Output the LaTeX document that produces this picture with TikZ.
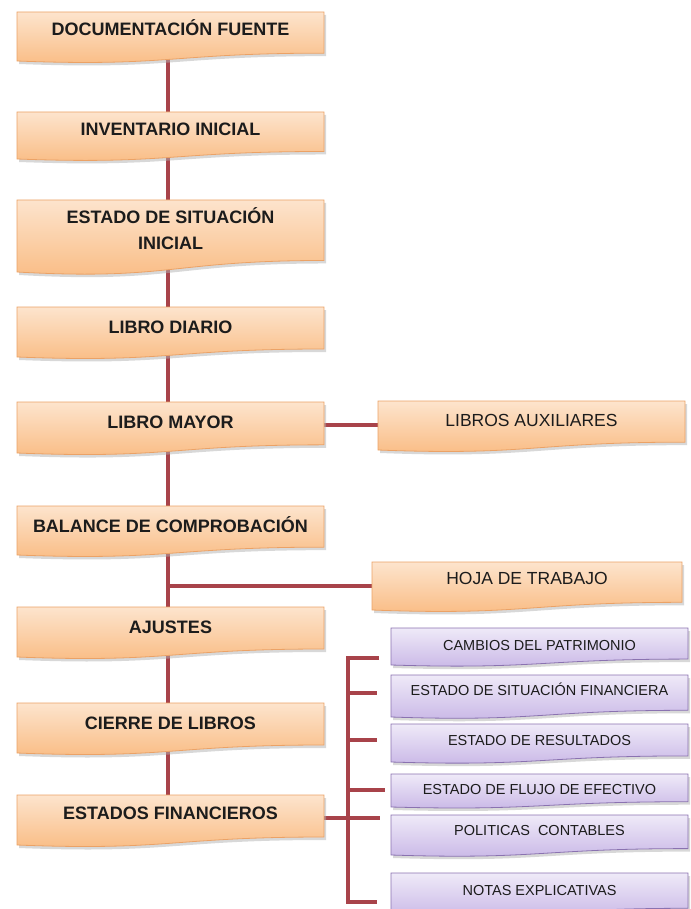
\documentclass[tikz,border=0pt]{standalone}
\usepackage{fontspec}
\setmainfont{Liberation Sans}
\usetikzlibrary{calc}
\pgfdeclarelayer{background}
\pgfsetlayers{background,main}
\definecolor{orangetop}{HTML}{FDE4CD}
\definecolor{orangebot}{HTML}{F9BB82}
\definecolor{orangeline}{HTML}{EBA266}
\definecolor{purpletop}{HTML}{EFEAF8}
\definecolor{purplebot}{HTML}{C8B6E6}
\definecolor{purpleline}{HTML}{8A72B0}
\definecolor{connc}{HTML}{A8434A}
\definecolor{textc}{HTML}{1C1C1C}
\tikzset{
  conn/.style={draw=connc, line width=4pt},
  orangebox/.style={draw=orangeline, line width=0.8pt, top color=orangetop, bottom color=orangebot},
  purplebox/.style={draw=purpleline, line width=0.8pt, top color=purpletop, bottom color=purplebot},
  boxshadow/.style={fill=black!30, opacity=0.5},
  frame/.style={inner sep=0pt, outer sep=0pt, draw=none, fill=none},
  maintext/.style={font=\fontsize{18}{26}\selectfont\bfseries, text=textc, align=center, inner sep=0pt, anchor=base},
  sidetext/.style={font=\fontsize{17.5}{21}\selectfont, text=textc, align=center, inner sep=0pt, anchor=base},
  ptext/.style={font=\fontsize{14.5}{17}\selectfont, text=textc, align=center, inner sep=0pt, anchor=base}
}
% #1 name, #2 box style, #3 x1, #4 y1, #5 x2, #6 y2 (left bottom), #7 text style, #8 baseline y (last line), #9 text
\newcommand{\dbox}[9]{%
  \pgfmathsetmacro\bxh{#6-#4}%
  \pgfmathsetmacro\bxm{(#3+#5)/2}%
  \pgfmathsetmacro\bxr{#4+0.84*\bxh}%
  \pgfmathsetmacro\bxc{#4+1.12*\bxh}%
  \fill[boxshadow, xshift=2pt, yshift=-3pt] (#3,#4) -- (#5,#4) -- (#5,\bxr) .. controls (\bxm,\bxr) and (\bxm,\bxc) .. (#3,#6) -- cycle;
  \draw[#2] (#3,#4) -- (#5,#4) -- (#5,\bxr) .. controls (\bxm,\bxr) and (\bxm,\bxc) .. (#3,#6) -- cycle;
  \node[frame, minimum width={(#5-#3)*1pt}, minimum height={(#6-#4)*1pt}] (#1) at (\bxm,{(#4+#6)/2}) {};
  \node[#7] (#1-t) at (\bxm,#8) {#9};
}
\begin{document}
\begin{tikzpicture}[x=1pt, y=-1pt]
\useasboundingbox (0,0) rectangle (690,909);
\clip (0,0) rectangle (690,909);

% main column
\dbox{doc}{orangebox}{17}{12}{324}{61}{maintext}{36}{DOCUMENTACIÓN FUENTE}
\dbox{inv}{orangebox}{17}{112}{324}{159}{maintext}{136}{INVENTARIO INICIAL}
\dbox{esi}{orangebox}{17}{200}{324}{272}{maintext}{249}{ESTADO DE SITUACIÓN\\INICIAL}
\dbox{diario}{orangebox}{17}{307}{324}{357}{maintext}{333}{LIBRO DIARIO}
\dbox{mayor}{orangebox}{17}{402}{324}{453}{maintext}{428}{LIBRO MAYOR}
\dbox{balance}{orangebox}{17}{506}{324}{555}{maintext}{532}{BALANCE DE COMPROBACIÓN}
\dbox{ajustes}{orangebox}{17}{607}{324}{657}{maintext}{633}{AJUSTES}
\dbox{cierre}{orangebox}{17}{703}{324}{753}{maintext}{729}{CIERRE DE LIBROS}
\dbox{estados}{orangebox}{17}{795}{324}{845}{maintext}{819}{ESTADOS FINANCIEROS}

% side boxes
\dbox{aux}{orangebox}{378}{401}{685}{450}{sidetext}{426}{LIBROS AUXILIARES}
\dbox{hoja}{orangebox}{372}{562}{682}{610}{sidetext}{584}{HOJA DE TRABAJO}

% financial statements
\dbox{p1}{purplebox}{391}{628}{688}{665}{ptext}{650}{CAMBIOS DEL PATRIMONIO}
\dbox{p2}{purplebox}{391}{675}{688}{717}{ptext}{695}{ESTADO DE SITUACIÓN FINANCIERA}
\dbox{p3}{purplebox}{391}{724}{688}{762}{ptext}{745}{ESTADO DE RESULTADOS}
\dbox{p4}{purplebox}{391}{774}{688}{807}{ptext}{794}{ESTADO DE FLUJO DE EFECTIVO}
\dbox{p5}{purplebox}{391}{815}{688}{855}{ptext}{835}{POLITICAS\ \ CONTABLES}
\dbox{p6}{purplebox}{391}{873}{688}{915}{ptext}{895}{NOTAS EXPLICATIVAS}

% bracket coordinates
\coordinate (bt) at (348,658);
\coordinate (bb) at (348,902);
\coordinate (e1) at (379,658);
\coordinate (e2) at (377,693);
\coordinate (e3) at (377,740);
\coordinate (e4) at (385,790);
\coordinate (e5) at (380,818);
\coordinate (e6) at (377,902);

\begin{pgfonlayer}{background}
  \draw[conn] ([xshift=-3pt]doc.center) -- ([xshift=-3pt]inv.center);
  \draw[conn] ([xshift=-3pt]inv.center) -- ([xshift=-3pt]esi.center);
  \draw[conn] ([xshift=-3pt]esi.center) -- ([xshift=-3pt]diario.center);
  \draw[conn] ([xshift=-3pt]diario.center) -- ([xshift=-3pt]mayor.center);
  \draw[conn] ([xshift=-3pt]mayor.center) -- ([xshift=-3pt]balance.center);
  \draw[conn] ([xshift=-3pt]balance.center) -- ([xshift=-3pt]ajustes.center);
  \draw[conn] ([xshift=-3pt]ajustes.center) -- ([xshift=-3pt]cierre.center);
  \draw[conn] ([xshift=-3pt]cierre.center) -- ([xshift=-3pt]estados.center);
  \draw[conn] ([yshift=3pt]mayor.east) -- ([yshift=3pt]mayor.east -| aux.west);
  \draw[conn] ([xshift=-3pt]balance.center |- hoja.west) -- (hoja.west);
  \draw[conn] ([yshift=2pt]estados.east) -- ([yshift=2pt]estados.east -| bt);
\end{pgfonlayer}
\draw[conn] (e1) -- (bt) -- (bb) -- (e6);
\draw[conn] (bt |- e2) -- (e2);
\draw[conn] (bt |- e3) -- (e3);
\draw[conn] (bt |- e4) -- (e4);
\draw[conn] (bt |- e5) -- (e5);
\end{tikzpicture}
\end{document}
